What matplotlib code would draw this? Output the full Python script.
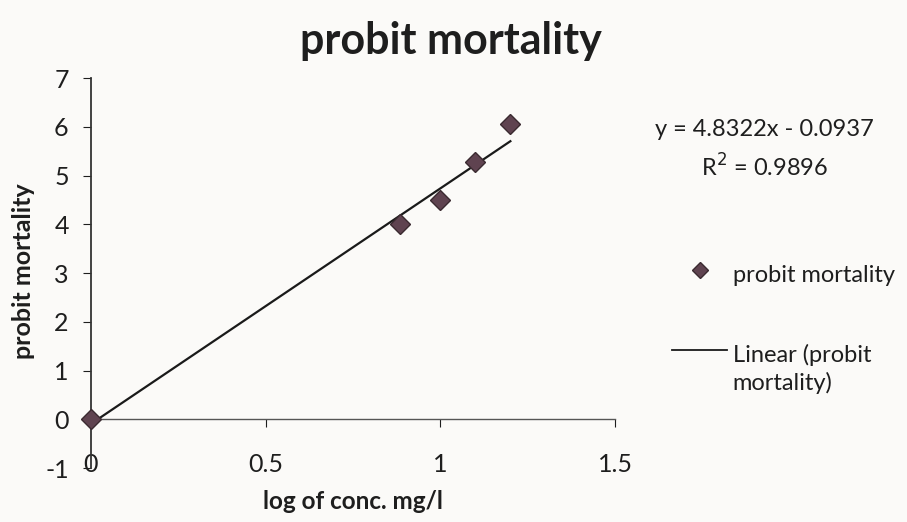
import matplotlib
matplotlib.use("Agg")
import matplotlib.pyplot as plt
from matplotlib.lines import Line2D
import numpy as np

# data
log_conc = [0.0, 0.885, 1.0, 1.10, 1.20]
probit = [0.0, 4.00, 4.49, 5.27, 6.05]
slope = 4.8322
intercept = -0.0937
r2 = 0.9896
x_ticks = [0, 0.5, 1, 1.5]
x_tick_labels = ["0", "0.5", "1", "1.5"]
y_ticks = [-1, 0, 1, 2, 3, 4, 5, 6, 7]

plt.rcParams['font.family'] = ['Lato', 'DejaVu Sans']
plt.rcParams['axes.unicode_minus'] = False

bg = '#fbfaf8'
mcol = '#5f4350'
tcol = '#1e1e1e'
fig = plt.figure(figsize=(9.07, 5.22), dpi=100, facecolor=bg)
ax = fig.add_axes([0.1003, 0.1034, 0.578, 0.747])
ax.set_facecolor(bg)

ax.set_xlim(0, 1.5)
ax.set_ylim(-1, 7)

# trendline from x min to x max
xs = np.array([min(log_conc), max(log_conc)])
ax.plot(xs, slope * xs + intercept, color='#1a1a1a', lw=1.6, zorder=2)
ax.plot(log_conc, probit, linestyle='none', marker='D', markersize=10, clip_on=False,
        markerfacecolor=mcol, markeredgecolor='#3a2a30', markeredgewidth=1, zorder=4)

for s in ['top', 'right']:
    ax.spines[s].set_visible(False)
ax.spines['bottom'].set_position(('data', 0))
ax.spines['left'].set_color('#333333')
ax.spines['bottom'].set_color('#555555')
ax.spines['left'].set_linewidth(1.3)
ax.spines['bottom'].set_linewidth(1.0)

ax.set_xticks(x_ticks)
ax.set_xticklabels(x_tick_labels)
ax.set_yticks(y_ticks)
ax.tick_params(axis='x', direction='out', length=6, pad=18, labelsize=18, colors=tcol)
ax.tick_params(axis='y', direction='out', length=6, pad=10, labelsize=18, colors=tcol)

fig.text(0.026, 0.48, 'probit mortality', fontsize=18, fontweight='bold', ha='center',
         va='center', rotation=90, color=tcol)
fig.text(0.389, 0.040, 'log of conc. mg/l', fontsize=17.5, fontweight='bold', ha='center',
         va='center', color=tcol)
fig.text(0.497, 0.922, 'probit mortality', fontsize=31, fontweight='bold', ha='center',
         va='center', color=tcol)

# trendline equation
fig.text(0.843, 0.751, f'y = {slope}x - {abs(intercept)}', fontsize=17, ha='center',
         va='center', color=tcol)
fig.text(0.843, 0.681, f'R$^2$ = {r2}', fontsize=17, ha='center', va='center', color=tcol)

# legend
fig.add_artist(Line2D([0.772], [0.483], transform=fig.transFigure, marker='D', markersize=8,
                      markerfacecolor=mcol, markeredgecolor='#3a2a30', linestyle='none'))
fig.text(0.808, 0.473, 'probit mortality', fontsize=17, ha='left', va='center', color=tcol)
fig.add_artist(Line2D([0.741, 0.802], [0.330, 0.330], transform=fig.transFigure,
                      color='#1a1a1a', lw=1.3))
fig.text(0.808, 0.342, 'Linear (probit\nmortality)', fontsize=17, ha='left', va='top',
         linespacing=1.35, color=tcol)

fig.savefig('out.png', dpi=100, facecolor=bg)
